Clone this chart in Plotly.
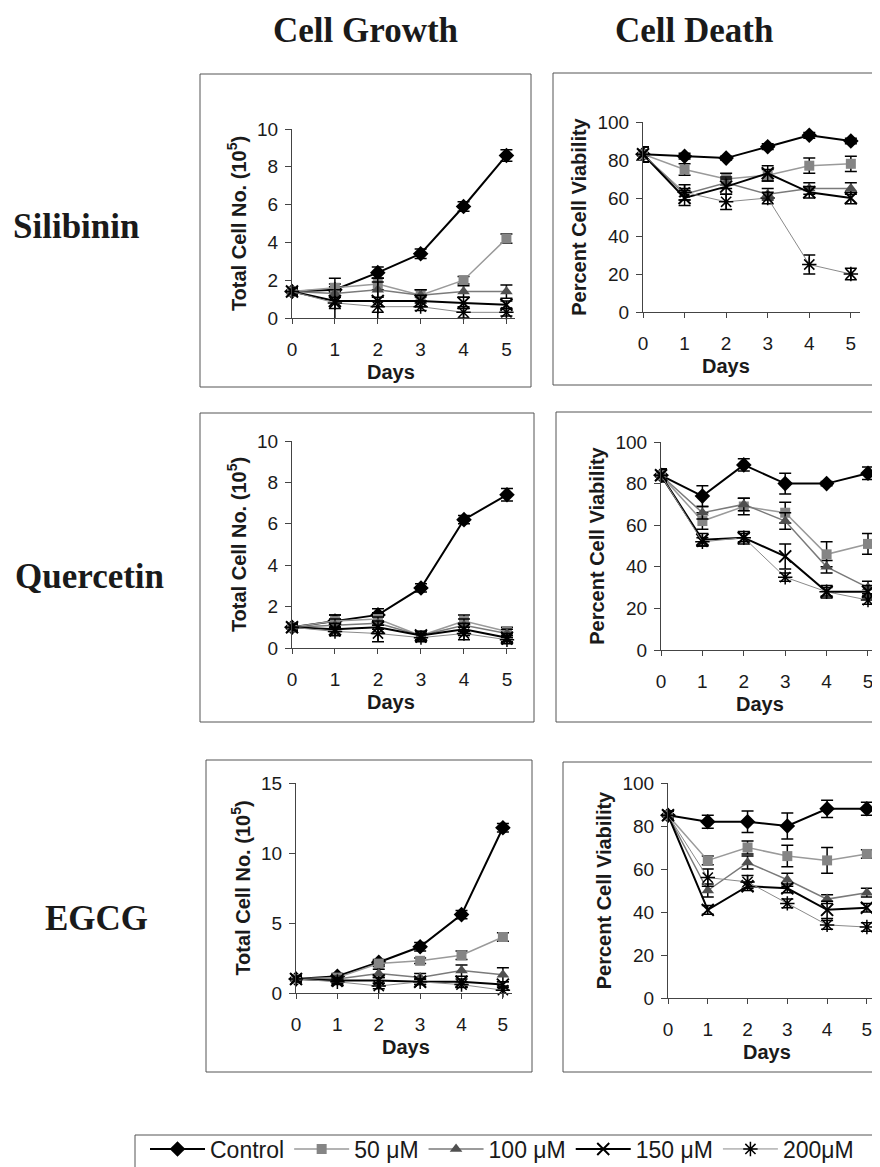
import plotly.graph_objects as go

W, H = 880, 1167
PAGE_OFFSET = 8  # default body margin of the html page

days = [0, 1, 2, 3, 4, 5]
series_names = ["Control", "50 μM", "100 μM", "150 μM", "200μM"]

# Silibinin
sil_growth = [
    [1.4, 1.5, 2.4, 3.4, 5.9, 8.6],
    [1.4, 1.6, 1.8, 1.2, 2.0, 4.2],
    [1.4, 1.3, 1.5, 1.2, 1.4, 1.4],
    [1.4, 0.9, 0.9, 0.9, 0.8, 0.7],
    [1.4, 0.8, 0.6, 0.6, 0.3, 0.3],
]
sil_growth_err = [
    [0.2, 0.15, 0.3, 0.25, 0.25, 0.3],
    [0.2, 0.2, 0.3, 0.3, 0.2, 0.25],
    [0.2, 0.2, 0.4, 0.3, 0.3, 0.35],
    [0.2, 1.2, 1.2, 0.3, 0.3, 0.2],
    [0.2, 0.3, 0.3, 0.2, 0.3, 0.2],
]
sil_death = [
    [83, 82, 81, 87, 93, 90],
    [83, 75, 70, 72, 77, 78],
    [83, 62, 68, 62, 65, 65],
    [83, 60, 66, 73, 63, 60],
    [83, 63, 58, 60, 25, 20],
]
sil_death_err = [
    [4, 1.5, 1, 1.5, 1.5, 1.5],
    [4, 3, 3, 3, 4, 4],
    [4, 3, 3, 3, 3, 3],
    [4, 4, 4, 4, 3, 3],
    [4, 4, 4, 3, 5, 3],
]

# Quercetin
que_growth = [
    [1.0, 1.3, 1.6, 2.9, 6.2, 7.4],
    [1.0, 1.3, 1.4, 0.6, 1.3, 0.8],
    [1.0, 1.1, 1.2, 0.6, 1.1, 0.7],
    [1.0, 0.9, 1.0, 0.6, 0.9, 0.5],
    [1.0, 0.8, 0.7, 0.5, 0.7, 0.4],
]
que_growth_err = [
    [0.2, 0.3, 0.3, 0.2, 0.2, 0.3],
    [0.15, 0.3, 0.3, 0.2, 0.3, 0.2],
    [0.15, 0.3, 0.3, 0.2, 0.3, 0.2],
    [0.15, 0.3, 0.3, 0.2, 0.3, 0.2],
    [0.15, 0.2, 0.4, 0.2, 0.3, 0.2],
]
que_death = [
    [84, 74, 89, 80, 80, 85],
    [84, 62, 69, 66, 46, 51],
    [84, 66, 70, 62, 40, 30],
    [84, 53, 54, 45, 28, 28],
    [84, 52, 54, 35, 28, 24],
]
que_death_err = [
    [3, 5, 3, 5, 1, 3],
    [3, 4, 4, 5, 6, 5],
    [3, 3, 3, 4, 3, 3],
    [3, 3, 3, 6, 3, 3],
    [3, 2, 2, 2, 2, 2],
]

# EGCG
egc_growth = [
    [1.0, 1.2, 2.2, 3.3, 5.6, 11.8],
    [1.0, 1.1, 2.1, 2.3, 2.7, 4.0],
    [1.0, 1.0, 1.4, 1.1, 1.6, 1.3],
    [1.0, 0.9, 0.9, 0.8, 0.8, 0.6],
    [1.0, 0.8, 0.5, 0.8, 0.6, 0.2],
]
egc_growth_err = [
    [0.2, 0.2, 0.2, 0.3, 0.3, 0.3],
    [0.2, 0.2, 0.2, 0.2, 0.3, 0.3],
    [0.2, 0.2, 0.3, 0.3, 0.4, 0.5],
    [0.2, 0.2, 0.2, 0.2, 0.2, 0.2],
    [0.2, 0.2, 0.2, 0.2, 0.2, 0.3],
]
egc_death = [
    [85, 82, 82, 80, 88, 88],
    [85, 64, 70, 66, 64, 67],
    [85, 50, 63, 55, 46, 49],
    [85, 41, 52, 51, 41, 42],
    [85, 56, 54, 44, 34, 33],
]
egc_death_err = [
    [2, 3, 5, 6, 4, 3],
    [2, 2, 3, 5, 6, 2],
    [2, 3, 3, 3, 2, 2],
    [2, 2, 2, 2, 4, 2],
    [2, 4, 3, 2, 2, 2],
]

col_titles = ["Cell Growth", "Cell Death"]
row_titles = ["Silibinin", "Quercetin", "EGCG"]
growth_title = "<b>Total Cell No. (10<sup>5</sup>)</b>"
death_title = "<b>Percent Cell Viability</b>"
x_title = "<b>Days</b>"


def fx(px):
    return (px - PAGE_OFFSET) / W


def fy(py):
    return 1 - (py - PAGE_OFFSET) / H


styles = [
    dict(marker=dict(symbol="diamond", size=12, color="black"),
         line=dict(color="black", width=2)),
    dict(marker=dict(symbol="square", size=10, color="#858585"),
         line=dict(color="#9a9a9a", width=1.5)),
    dict(marker=dict(symbol="triangle-up", size=11, color="#505050"),
         line=dict(color="#7a7a7a", width=1.5)),
    dict(marker=dict(symbol="x-thin-open", size=12, color="black", line=dict(width=2, color="black")),
         line=dict(color="black", width=2)),
    dict(marker=dict(symbol="asterisk-open", size=12, color="black", line=dict(width=1.5, color="black")),
         line=dict(color="#8a8a8a", width=1)),
]

# panel geometry in pixels:
# values, errors, x-axis left px, x-axis right px, y zero px, y top px, xmax, ymax, dtick,
# y title, frame box, x position of "Days" (axis units)
panels = [
    (sil_growth, sil_growth_err, 292, 515, 318, 129, 5.2, 10, 2, growth_title, (200, 74, 531, 387), 2.3),
    (sil_death, sil_death_err, 643, 860, 312, 122, 5.22, 100, 20, death_title, (553, 73, 875, 385), 2.0),
    (que_growth, que_growth_err, 292, 516, 648, 441, 5.21, 10, 2, growth_title, (200, 413, 534, 722), 2.3),
    (que_death, que_death_err, 661, 880, 650, 442, 5.29, 100, 20, death_title, (556, 412, 890, 722), 2.4),
    (egc_growth, egc_growth_err, 296, 512, 993, 783, 5.22, 15, 5, growth_title, (206, 760, 532, 1072), 2.65),
    (egc_death, egc_death_err, 668, 880, 998, 783, 5.33, 100, 20, death_title, (563, 762, 890, 1072), 2.5),
]

fig = go.Figure()
layout_axes = {}
shapes = []
annotations = []
tickfont = dict(family="Liberation Sans, Arial, sans-serif", size=19, color="#1a1a1a")
titlefont = dict(family="Liberation Sans, Arial, sans-serif", size=20, color="#1a1a1a")

for i, (vals, errs, x0, x1, y0, y1, xmax, ymax, dt, ytitle, box, days_x) in enumerate(panels):
    n = i + 1
    xa = "x" if n == 1 else f"x{n}"
    ya = "y" if n == 1 else f"y{n}"
    for k in range(5):
        fig.add_trace(go.Scatter(
            x=days, y=vals[k], xaxis=xa, yaxis=ya, mode="lines+markers",
            name=series_names[k], showlegend=(i == 0), legendrank=k,
            marker=styles[k]["marker"], line=styles[k]["line"],
            error_y=dict(type="data", array=errs[k], visible=True, color="black", thickness=1.5, width=6),
            cliponaxis=False,
        ))
    xkey = "xaxis" if n == 1 else f"xaxis{n}"
    ykey = "yaxis" if n == 1 else f"yaxis{n}"
    layout_axes[xkey] = dict(
        domain=[fx(x0), fx(x1)], anchor=ya, range=[0, xmax], tickvals=days,
        showline=True, linecolor="#444", linewidth=1, ticks="outside", ticklen=5,
        tickcolor="#444", showgrid=False, zeroline=False, tickfont=tickfont,
        ticklabelstandoff=9, automargin=False,
    )
    layout_axes[ykey] = dict(
        domain=[fy(y0), fy(y1)], anchor=xa, range=[0, ymax], dtick=dt, tick0=0,
        showline=True, linecolor="#444", linewidth=1, ticks="outside", ticklen=6,
        tickcolor="#444", showgrid=False, zeroline=False, tickfont=tickfont,
        ticklabelstandoff=3, automargin=False,
        title=dict(text=ytitle, font=titlefont, standoff=5),
    )
    annotations.append(dict(text=x_title, xref=xa, yref="paper", x=days_x, y=fy(y0 + 54),
                            showarrow=False, font=titlefont, xanchor="center", yanchor="middle"))
    bx0, by0, bx1, by1 = box
    shapes.append(dict(type="rect", xref="paper", yref="paper",
                       x0=fx(bx0), x1=fx(bx1), y0=fy(by1), y1=fy(by0),
                       line=dict(color="#555", width=1)))

# legend box
shapes.append(dict(type="rect", xref="paper", yref="paper",
                   x0=fx(135), x1=fx(900), y0=fy(1195), y1=fy(1135),
                   line=dict(color="#555", width=1)))

serif = dict(family="Liberation Serif, Times New Roman, serif", size=35, color="#1a1a1a")
title_specs = [
    (col_titles[0], 365, 30),
    (col_titles[1], 694, 30),
    (row_titles[0], 76, 226),
    (row_titles[1], 89, 576),
    (row_titles[2], 96, 918),
]
for txt, px, py in title_specs:
    annotations.append(dict(text=f"<b>{txt}</b>", x=fx(px), y=fy(py), xref="paper", yref="paper",
                            showarrow=False, font=serif, xanchor="center", yanchor="middle"))

fig.update_layout(
    width=W, height=H,
    margin=dict(l=0, r=0, t=0, b=0, autoexpand=False),
    paper_bgcolor="white", plot_bgcolor="white",
    shapes=shapes, annotations=annotations,
    showlegend=True,
    legend=dict(orientation="h", x=fx(145), y=fy(1149), xanchor="left", yanchor="middle",
                font=dict(family="Liberation Sans, Arial, sans-serif", size=23, color="#1a1a1a"),
                itemwidth=55, bgcolor="rgba(0,0,0,0)", tracegroupgap=0, traceorder="normal"),
    **layout_axes,
)

fig.write_html("out.html")
